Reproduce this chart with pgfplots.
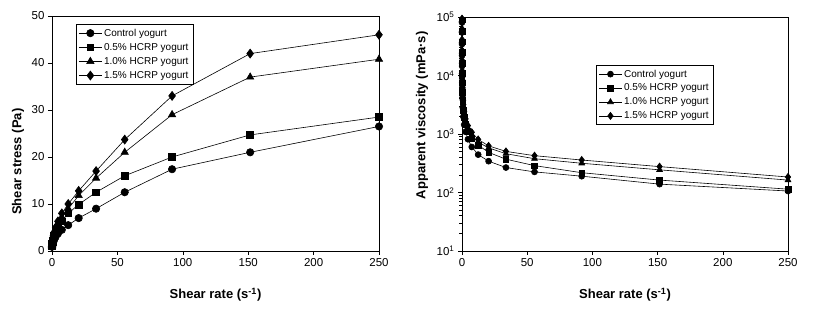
\documentclass[border=0pt]{standalone}
\usepackage{fontspec}
\setmainfont{Liberation Sans}
\usepackage{pgfplots}
\pgfplotsset{compat=1.18}
\usepackage{pgfplotstable}

\pgfplotstableread{
rate ctrl p05 p10 p15
0.0112 0.9 1.0 1.0 1.05
0.0184 1.0 1.05 1.1 1.15
0.0304 1.05 1.15 1.2 1.25
0.0502 1.1 1.25 1.3 1.35
0.0828 1.2 1.35 1.45 1.5
0.137 1.3 1.5 1.6 1.65
0.225 1.4 1.7 1.85 1.9
0.372 1.55 1.9 2.1 2.2
0.613 1.75 2.2 2.5 2.6
1.01 2.0 2.6 3.0 3.2
1.67 2.4 3.2 3.7 4.0
2.76 3.0 4.0 4.6 5.0
4.55 3.7 5.0 5.8 6.3
7.5 4.5 6.3 7.2 8.0
12.4 5.5 8.0 9.0 10.0
20.4 7.0 9.9 11.8 12.8
33.7 9.0 12.5 15.5 17.0
55.6 12.5 16.0 21.0 23.7
91.8 17.4 20.0 29.0 33.0
151.5 21.0 24.7 37.0 42.0
250 26.5 28.5 40.8 46.0
}\stress

\pgfplotstableread{
rate ctrl p05 p10 p15
0.0112 80400 89300 89300 93800
0.0184 54300 57100 59800 62500
0.0304 34500 37800 39500 41100
0.0502 21900 24900 25900 26900
0.0828 14500 16300 17500 18100
0.137 9490 10900 11700 12000
0.225 6220 7560 8220 8440
0.372 4170 5110 5650 5910
0.613 2850 3590 4080 4240
1.01 1980 2570 2970 3170
1.67 1440 1920 2220 2400
2.76 1090 1450 1670 1810
4.55 813 1100 1280 1390
7.5 600 840 960 1070
12.4 444 645 726 806
20.4 343 485 578 627
33.7 267 371 460 504
55.6 225 288 378 426
91.8 190 218 316 359
151.5 139 163 244 277
250 106 114 163 184
}\visc

\pgfplotsset{
  common/.style={
    scale only axis,
    anchor=south west,
    xmin=0, xmax=250,
    xtick={0,50,100,150,200,250},
    tick align=outside,
    xtick pos=bottom, ytick pos=left,
    major tick length=4pt,
    tick style={black, line width=0.6pt},
    axis line style={line width=0.8pt},
    ticklabel style={font=\fontsize{11.5}{12}\selectfont},
    /pgf/number format/assume math mode=true,
    label style={font=\bfseries\fontsize{13}{14}\selectfont},
    xlabel={Shear rate (s\textsuperscript{-1})},
    clip=false,
    legend cell align=left,
    legend image code/.code={\draw[mark repeat=2,mark phase=2] plot coordinates {(0cm,0cm) (0.4cm,0cm) (0.8cm,0cm)};},
  },
  sr/.style={black, line width=0.6pt, mark options={fill=black, draw=black, solid}},
}

\begin{document}
\begin{tikzpicture}
\path[use as bounding box] (0pt,0pt) rectangle (813pt,315pt);

\begin{axis}[common,
  at={(52pt,64pt)}, width=327pt, height=235pt,
  ymin=0, ymax=50, ytick={0,10,20,30,40,50},
  ylabel={Shear stress (Pa)},
  xlabel style={at={(axis description cs:0.5,-0.187)}, anchor=center},
  ylabel style={at={(axis description cs:-0.104,0.38)}, anchor=center},
  legend style={at={(rel axis cs:0.073,0.966)}, anchor=north west, draw=black, line width=0.6pt,
    font=\fontsize{10}{11}\selectfont, row sep=1.6pt, inner sep=2.5pt},
]
\addplot[sr, mark=*, mark size=3.7pt] table[x=rate, y=ctrl] {\stress};
\addlegendentry{Control yogurt}
\addplot[sr, mark=square*, mark size=3.4pt] table[x=rate, y=p05] {\stress};
\addlegendentry{0.5\% HCRP yogurt}
\addplot[sr, mark=triangle*, mark size=4.2pt] table[x=rate, y=p10] {\stress};
\addlegendentry{1.0\% HCRP yogurt}
\addplot[sr, mark=diamond*, mark size=4.5pt] table[x=rate, y=p15] {\stress};
\addlegendentry{1.5\% HCRP yogurt}
\end{axis}

\begin{axis}[common,
  at={(462pt,64pt)}, width=326pt, height=234pt,
  ymode=log, ymin=10, ymax=100000,
  ytick={10,100,1000,10000,100000},
  yticklabels={10\textsuperscript{1},10\textsuperscript{2},10\textsuperscript{3},10\textsuperscript{4},10\textsuperscript{5}},
  ylabel={Apparent viscosity (mPa·s)},
  xlabel style={at={(axis description cs:0.5,-0.188)}, anchor=center},
  ylabel style={at={(axis description cs:-0.123,0.58)}, anchor=center},
  legend style={at={(rel axis cs:0.411,0.795)}, anchor=north west, draw=black, line width=0.6pt,
    font=\fontsize{10}{11}\selectfont, row sep=1.4pt, inner sep=2.5pt},
]
\addplot[sr, mark=*, mark size=3pt] table[x=rate, y=ctrl] {\visc};
\addlegendentry{Control yogurt}
\addplot[sr, mark=square*, mark size=2.8pt] table[x=rate, y=p05] {\visc};
\addlegendentry{0.5\% HCRP yogurt}
\addplot[sr, mark=triangle*, mark size=3.4pt] table[x=rate, y=p10] {\visc};
\addlegendentry{1.0\% HCRP yogurt}
\addplot[sr, mark=diamond*, mark size=3.6pt] table[x=rate, y=p15] {\visc};
\addlegendentry{1.5\% HCRP yogurt}
\end{axis}
\end{tikzpicture}
\end{document}
